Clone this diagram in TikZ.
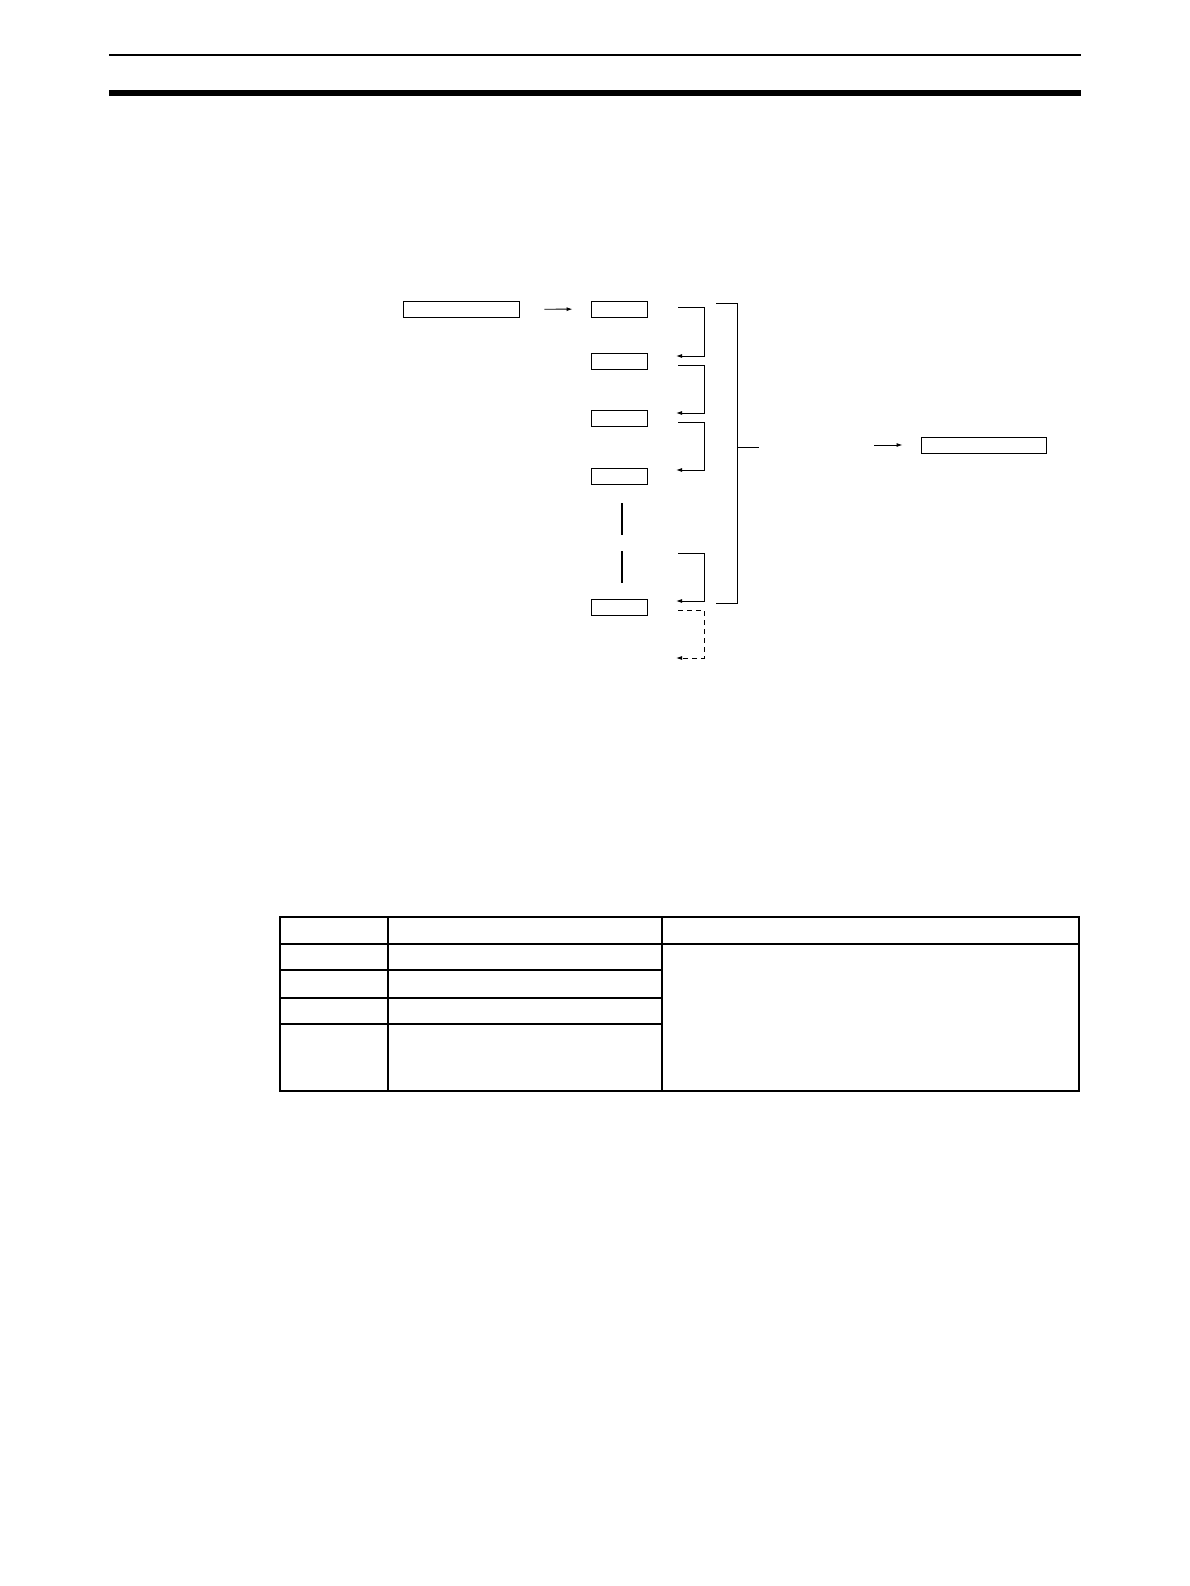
\documentclass[tikz,border=0pt]{standalone}
\usetikzlibrary{arrows.meta}
\begin{document}
\begin{tikzpicture}[line cap=butt,line join=miter,x=1pt,y=-1pt,>={Latex[length=6pt,width=4pt]}]
\tikzset{
  box/.style={draw,line width=0.9pt,inner sep=0pt,minimum height=16pt},
  loop/.style={->,line width=0.9pt},
  tbl/.style={line width=1.4pt},
  tblout/.style={line width=2.2pt}
}
\useasboundingbox (0,0) rectangle (1190,1586);
% page rules
\draw[line width=2pt] (109,55.5)--(1081,55.5);
\draw[line width=5.7pt] (109,93)--(1081,93);
% boxes
\node[box,minimum width=116pt] (a) at (461,309.5) {};
\node[box,minimum width=56pt] (b1) at (619,309) {};
\node[box,minimum width=56pt] (b2) at (619,361) {};
\node[box,minimum width=56pt] (b3) at (619,418) {};
\node[box,minimum width=56pt] (b4) at (619,476) {};
\node[box,minimum width=56pt] (b5) at (619,607) {};
\node[box,minimum width=125pt] (c) at (983.5,445) {};
\draw[->,line width=0.9pt,shorten <=25pt,shorten >=18pt] (a) -- (b1);
% gap marks
\draw[line width=2pt] (622,503)--(622,535);
\draw[line width=2pt] (622,551)--(622,583);
% loops
\draw[loop] (678,307) -| (704,356) -- (676,356);
\draw[loop] (678,365) -| (704,413) -- (676,413);
\draw[loop] (678,422) -| (704,470) -- (676,470);
\draw[loop] (678,553) -| (704,601) -- (676,601);
\draw[loop,dashed,dash pattern=on 5pt off 4pt] (678,610) -| (704,658) -- (676,658);
% bracket
\draw[line width=1pt] (716,304) -- (737,304) -- (737,603) -- (716,603);
\draw[line width=1pt] (737,447) -- (759,447);
\coordinate (cin) at (874,445);
\draw[->,line width=0.9pt,shorten >=18pt] (cin) -- (c);
% table
\draw[tblout] (280,917) rectangle (1079,1091);
\draw[tblout] (280,944) -- (1079,944);
\draw[tbl] (388,917) -- (388,1091);
\draw[tbl] (662,917) -- (662,1091);
\foreach \y in {970,998,1024}
  \draw[tbl] (280,\y) -- (662,\y);
\end{tikzpicture}
\end{document}
